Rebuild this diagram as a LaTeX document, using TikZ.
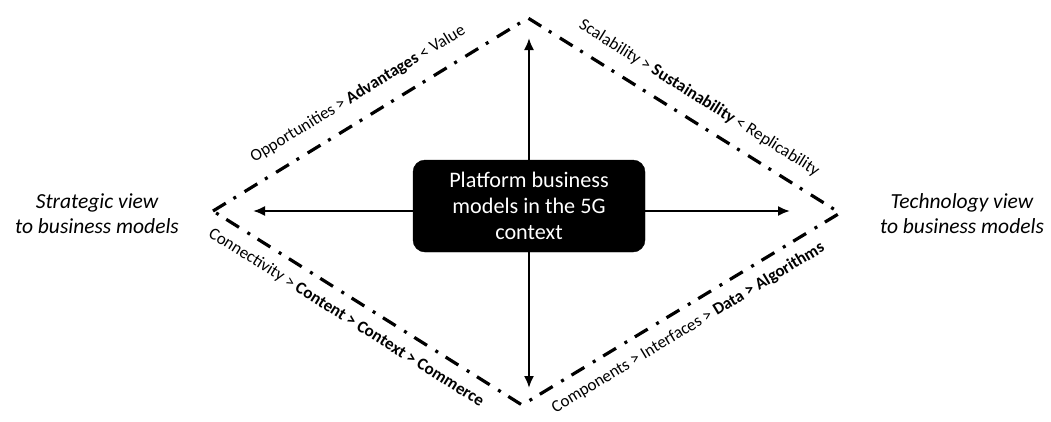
\documentclass[tikz,border=0pt]{standalone}
\usepackage{fontspec}
\setmainfont{Carlito}
\usepackage{tikz}
\usetikzlibrary{arrows.meta}
\usetikzlibrary{positioning}

\begin{document}
\begin{tikzpicture}[x=1pt, y=-1pt]
		\tikzstyle{core}=[draw, fill=black, rounded corners=12pt, minimum width=232pt, minimum height=92pt, text=white, align=center, font=\fontsize{22.2}{26}\selectfont]
		\tikzstyle{view}=[align=center, font=\fontsize{21.5}{25}\selectfont\itshape]
		\tikzstyle{border}=[line width=3.2pt, dash pattern=on 15pt off 9pt on 3pt off 10pt]
		\tikzstyle{chain}=[sloped, font=\fontsize{17}{20}\selectfont]
		\tikzstyle{axis}=[line width=2pt, -{Latex[length=12pt, width=10pt]}]

		\useasboundingbox (0,0) rectangle (1051,421);

    % Diamond corners
		\coordinate (L) at (213,211);
		\coordinate (T) at (528,18);
		\coordinate (R) at (840,213);
		\coordinate (B) at (522,405);

    % Arrow tips
		\coordinate (tipT) at (529,38);
		\coordinate (tipB) at (529,388);
		\coordinate (tipL) at (253,211);
		\coordinate (tipR) at (790,211);

    % Centre box
		\node[core](platform) at (529,206){Platform business\\models in the 5G\\context};

    % Views
		\node[view](strategic) at (97,214){Strategic view\\to business models};
		\node[view](technology) at (962,214){Technology view\\to business models};

    % Diamond
		\draw[border] (L) -- (T) -- (R) -- (B) -- cycle;

		\path (L) -- node[chain, above=13pt, pos=0.5](value){Opportunities > \textbf{Advantages} < Value} (T);
		\path (T) -- node[chain, above=12pt, pos=0.51](sustain){Scalability > \textbf{Sustainability} < Replicability} (R);
		\path (L) -- node[chain, below=9pt, pos=0.465](commerce){Connectivity > \textbf{Content > Context > Commerce}} (B);
		\path (B) -- node[chain, below=9pt, pos=0.49](algo){Components > Interfaces > \textbf{Data > Algorithms}} (R);

    % Arrows
		\draw[axis] (platform.north) -- (tipT);
		\draw[axis] (platform.south) -- (tipB);
		\draw[axis] (tipL -| platform.west) -- (tipL);
		\draw[axis] (tipR -| platform.east) -- (tipR);

  \end{tikzpicture}
\end{document}
